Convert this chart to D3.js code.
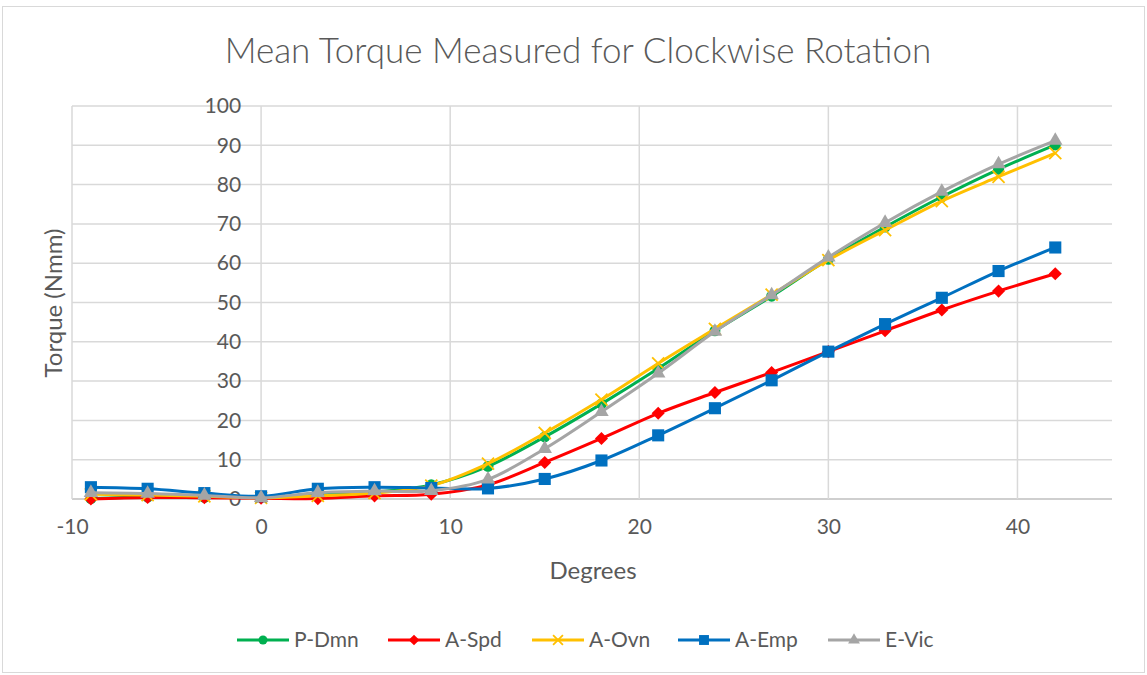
<!DOCTYPE html>
<html>
<head>
<meta charset="utf-8">
<script src="https://cdn.jsdelivr.net/npm/d3@7"></script>
<style>
  body { margin: 0; background: #fff; }
  text { font-family: Lato, "Open Sans", sans-serif; fill: #595959; }
</style>
</head>
<body>
<svg id="chart"></svg>
<script>
var width = 1147, height = 675;
var degrees = [-9, -6, -3, 0, 3, 6, 9, 12, 15, 18, 21, 24, 27, 30, 33, 36, 39, 42];
var p_dmn = [0.1, 0.5, 0.4, 0.5, 1.0, 1.8, 3.6, 8.3, 15.8, 24.2, 33.2, 42.8, 51.6, 61.0, 69.2, 76.9, 83.9, 90.1];
var a_spd = [0.0, 0.4, 0.3, 0.2, 0.1, 0.8, 1.2, 3.6, 9.3, 15.4, 21.8, 27.1, 32.2, 37.5, 42.8, 48.1, 52.9, 57.3];
var a_ovn = [1.2, 1.0, 0.7, 0.3, 0.8, 1.5, 3.4, 9.0, 16.8, 25.3, 34.5, 43.3, 52.0, 60.8, 68.4, 75.8, 82.0, 88.0];
var a_emp = [3.0, 2.6, 1.5, 0.7, 2.6, 3.0, 2.8, 2.7, 5.1, 9.8, 16.2, 23.1, 30.2, 37.5, 44.5, 51.2, 58.0, 64.0];
var e_vic = [1.6, 1.4, 0.9, 0.3, 1.6, 2.0, 2.1, 5.0, 12.8, 22.2, 32.0, 42.6, 51.9, 61.5, 70.3, 78.2, 85.2, 91.2];
var series_names = ["P-Dmn", "A-Spd", "A-Ovn", "A-Emp", "E-Vic"];
var x_ticks = [-10, 0, 10, 20, 30, 40];
var y_ticks = [0, 10, 20, 30, 40, 50, 60, 70, 80, 90, 100];

var series = [
  {name: series_names[0], values: p_dmn, color: "#00b050", marker: "circle"},
  {name: series_names[1], values: a_spd, color: "#ff0000", marker: "diamond"},
  {name: series_names[2], values: a_ovn, color: "#ffc000", marker: "cross"},
  {name: series_names[3], values: a_emp, color: "#0070c0", marker: "square"},
  {name: series_names[4], values: e_vic, color: "#a5a5a5", marker: "triangle"}
];

var svg = d3.select("#chart").attr("width", width).attr("height", height);

// chart frame
svg.append("rect")
  .attr("x", 2.5).attr("y", 6.5)
  .attr("width", 1142).attr("height", 666)
  .attr("fill", "none").attr("stroke", "#d9d9d9");

var x = d3.scaleLinear().domain([-10, 45]).range([72, 1112]);
var y = d3.scaleLinear().domain([0, 100]).range([499, 106]);

// gridlines
var grid = svg.append("g");
grid.selectAll(".hgrid").data(y_ticks).enter().append("line")
  .attr("x1", x(-10)).attr("x2", x(45))
  .attr("y1", function(d) { return y(d); })
  .attr("y2", function(d) { return y(d); })
  .attr("stroke", function(d) { return d == 0 ? "#bfbfbf" : "#d9d9d9"; })
  .attr("stroke-width", 1.5);
grid.selectAll(".vgrid").data(x_ticks).enter().append("line")
  .attr("x1", function(d) { return x(d); })
  .attr("x2", function(d) { return x(d); })
  .attr("y1", y(100)).attr("y2", y(0))
  .attr("stroke", "#d9d9d9")
  .attr("stroke-width", 1.5);

var plain = function(d) { return String(d); };

// y axis sits on x = 0
var yAxis = svg.append("g")
  .attr("transform", "translate(" + (x(0) - 20) + ",0)")
  .call(d3.axisLeft(y).tickValues(y_ticks).tickFormat(plain).tickSize(0).tickPadding(0));
yAxis.select(".domain").remove();
yAxis.selectAll("text").style("font-size", "21px").attr("fill", "#595959")
  .style("font-family", "Lato, 'Open Sans', sans-serif");

// x axis labels under the plot
var xAxis = svg.append("g")
  .attr("transform", "translate(0," + (y(0) + 20) + ")")
  .call(d3.axisBottom(x).tickValues(x_ticks).tickFormat(plain).tickSize(0).tickPadding(0));
xAxis.select(".domain").remove();
xAxis.selectAll("text").style("font-size", "21px").attr("fill", "#595959")
  .style("font-family", "Lato, 'Open Sans', sans-serif");

// titles
svg.append("text")
  .attr("x", 578).attr("y", 63)
  .attr("text-anchor", "middle")
  .style("font-size", "35px").style("font-weight", 300)
  .text("Mean Torque Measured for Clockwise Rotation");
svg.append("text")
  .attr("x", 593).attr("y", 579)
  .attr("text-anchor", "middle")
  .style("font-size", "24px")
  .text("Degrees");
svg.append("text")
  .attr("transform", "translate(62,303) rotate(-90)")
  .attr("text-anchor", "middle")
  .style("font-size", "24px")
  .text("Torque (Nmm)");

var line = d3.line()
  .x(function(d) { return x(d[0]); })
  .y(function(d) { return y(d[1]); })
  .curve(d3.curveCardinal.tension(0));

function drawMarker(g, type, color, size) {
  if (type == "circle") {
    g.append("circle").attr("r", size * 0.5).attr("fill", color);
  } else if (type == "diamond") {
    g.append("path").attr("d", d3.symbol().type(d3.symbolDiamond2).size(size * size * 0.9)).attr("fill", color);
  } else if (type == "cross") {
    g.append("path").attr("d", d3.symbol().type(d3.symbolX).size(size * size * 0.8))
      .attr("fill", "none").attr("stroke", color).attr("stroke-width", 1.8);
  } else if (type == "square") {
    g.append("rect").attr("x", -size * 0.55).attr("y", -size * 0.55)
      .attr("width", size * 1.1).attr("height", size * 1.1).attr("fill", color);
  } else {
    g.append("path").attr("d", d3.symbol().type(d3.symbolTriangle).size(size * size * 0.75)).attr("fill", color);
  }
}

series.forEach(function(s) {
  var pts = degrees.map(function(d, i) { return [d, s.values[i]]; });
  var g = svg.append("g");
  g.append("path")
    .datum(pts)
    .attr("d", line)
    .attr("fill", "none")
    .attr("stroke", s.color)
    .attr("stroke-width", 3);
  g.selectAll(".pt").data(pts).enter().append("g")
    .attr("transform", function(d) { return "translate(" + x(d[0]) + "," + y(d[1]) + ")"; })
    .each(function() { drawMarker(d3.select(this), s.marker, s.color, 11); });
});

// legend
var legend_x = [237, 388, 532, 678, 828];
var leg = svg.append("g").attr("transform", "translate(0,640)");
series.forEach(function(s, i) {
  var g = leg.append("g").attr("transform", "translate(" + legend_x[i] + ",0)");
  g.append("line").attr("x1", 0).attr("x2", 52).attr("y1", 0).attr("y2", 0)
    .attr("stroke", s.color).attr("stroke-width", 3);
  var m = g.append("g").attr("transform", "translate(26,0)");
  drawMarker(m, s.marker, s.color, 9);
  g.append("text").attr("x", 57).attr("y", 0).attr("dy", "0.35em")
    .style("font-size", "21px")
    .text(s.name);
});
</script>
</body>
</html>
